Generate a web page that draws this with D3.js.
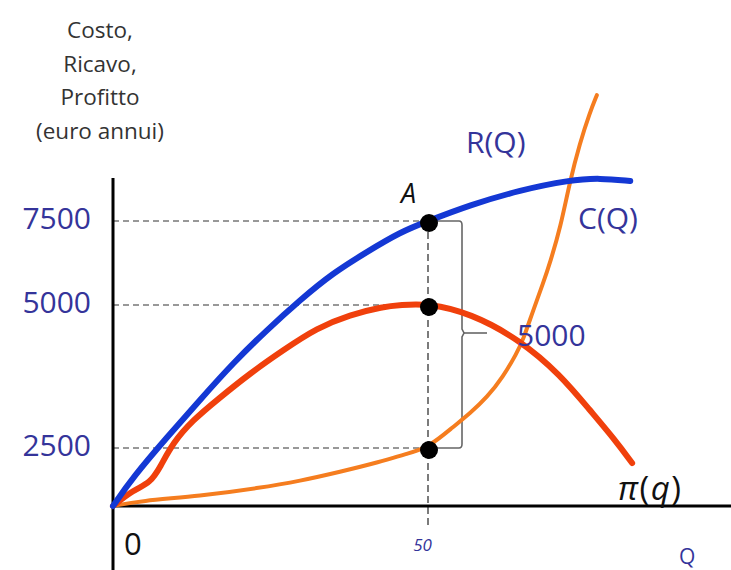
<!DOCTYPE html>
<html>
<head>
<meta charset="utf-8">
<script src="https://cdn.jsdelivr.net/npm/d3@7"></script>
<style>
  body { margin: 0; background: #fff; }
  text { font-family: "Open Sans", "Liberation Sans", sans-serif; }
</style>
</head>
<body>
<div id="chart"></div>
<script>
// quantities (Q) and euro values
const revenueQ = [0, 3.2, 8.6, 13.8, 19.1, 24.4, 29.7, 34.9, 40.3, 45.6, 50, 56.7, 64.6, 72.5, 77.3, 82.1];
const revenueV = [0, 1250, 2690, 3340, 3990, 4560, 5150, 5950, 6580, 7170, 7500, 7980, 8420, 8720, 8780, 8690];

const profitQ = [0, 3.2, 5.9, 7.5, 9.5, 12.7, 16.5, 21.8, 27.0, 32.4, 37.6, 42.9, 45.6, 50, 56.7, 64.6, 71.0, 75.7, 79.7, 82.4];
const profitV = [0, 690, 990, 1680, 2590, 2990, 3340, 3810, 4210, 4600, 4830, 4970, 5000, 5050, 4860, 4390, 3780, 3160, 2640, 1850];

const costQ = [0, 4.3, 13.8, 23.3, 29.7, 36.0, 42.4, 46.4, 50, 54.0, 56.7, 59.4, 61.9, 64.1, 65.1, 66.7, 68.3, 69.4, 71.0, 72.5, 74.1, 75.7, 76.8];
const costV = [0, 220, 430, 780, 1080, 1470, 1900, 2240, 2500, 2870, 3110, 3390, 3740, 4160, 4390, 4910, 5660, 6280, 7290, 8660, 9820, 10740, 11250];

const yTicks = [2500, 5000, 7500];
const markQ = 50;
const markV = [7500, 5000, 2500];
const titleLines = ["Costo,", "Ricavo,", "Profitto", "(euro annui)"];

const W = 731, H = 570;
const svg = d3.select("#chart").append("svg")
  .attr("width", W).attr("height", H);

// hand-drawn sketch: the value axis is not evenly spaced
const x = d3.scaleLinear().domain([0, 50]).range([113, 428]);
const y = d3.scaleLinear()
  .domain([0, 2500, 5000, 7500, 12000])
  .range([506, 448, 305, 221, 70]);

const labelBlue = "#34349a";

// y axis title
svg.append("g").selectAll("text")
  .data(titleLines)
  .enter().append("text")
  .attr("x", 100)
  .attr("y", (d, i) => 38 + i * 33.5)
  .attr("text-anchor", "middle")
  .attr("font-size", 22.5)
  .attr("fill", "#333")
  .text(d => d);

// guide lines
svg.append("g").selectAll("line")
  .data(markV)
  .enter().append("line")
  .attr("x1", x(0)).attr("x2", x(markQ))
  .attr("y1", d => y(d)).attr("y2", d => y(d))
  .attr("stroke", "#777")
  .attr("stroke-width", 1.6)
  .attr("stroke-dasharray", "6,4");

svg.append("line")
  .attr("x1", x(markQ)).attr("x2", x(markQ))
  .attr("y1", y(7500)).attr("y2", y(0) + 22)
  .attr("stroke", "#444")
  .attr("stroke-width", 1.4)
  .attr("stroke-dasharray", "7,4");

// brace between R and C at Q = 50
const bx = x(markQ) + 34, by1 = y(7500), by2 = y(2500), bm = y(5000) + 28;
svg.append("path")
  .attr("d", `M${x(markQ)},${by1} H${bx - 3} Q${bx},${by1} ${bx},${by1 + 4} V${bm - 4} L${bx + 2},${bm}
    L${bx},${bm + 4} V${by2 - 4} Q${bx},${by2} ${bx - 3},${by2} H${x(markQ)}`)
  .attr("fill", "none")
  .attr("stroke", "#666")
  .attr("stroke-width", 1.6);
svg.append("line")
  .attr("x1", bx + 2).attr("x2", bx + 25)
  .attr("y1", bm).attr("y2", bm)
  .attr("stroke", "#666")
  .attr("stroke-width", 1.6);

// axes
const yAxis = svg.append("g")
  .attr("transform", `translate(${x(0)},0)`)
  .call(d3.axisLeft(y).tickValues(yTicks).tickFormat(d3.format("d")).tickSize(0).tickPadding(22));
yAxis.select(".domain").remove();
yAxis.selectAll("text")
  .attr("font-family", "Open Sans, sans-serif")
  .attr("font-size", 30)
  .attr("dy", "0.25em")
  .attr("fill", labelBlue);

const xAxis = svg.append("g")
  .attr("transform", `translate(0,${y(0)})`)
  .call(d3.axisBottom(x).tickValues([markQ]).tickSize(0).tickPadding(33));
xAxis.select(".domain").remove();
xAxis.selectAll("text")
  .attr("font-family", "Open Sans, sans-serif")
  .attr("font-size", 17)
  .attr("font-style", "italic")
  .attr("fill", labelBlue)
  .attr("dx", -6);

svg.append("line")
  .attr("x1", x(0)).attr("x2", W)
  .attr("y1", y(0)).attr("y2", y(0))
  .attr("stroke", "#000").attr("stroke-width", 3);
svg.append("line")
  .attr("x1", x(0)).attr("x2", x(0))
  .attr("y1", 178).attr("y2", H)
  .attr("stroke", "#000").attr("stroke-width", 3);

svg.append("text")
  .attr("x", x(0) + 11).attr("y", y(0) + 49)
  .attr("font-size", 31).attr("fill", "#111")
  .text("0");
svg.append("text")
  .attr("x", 679).attr("y", 564)
  .attr("font-size", 21).attr("fill", labelBlue)
  .text("Q");

// curves (B-spline smooths the hand-drawn look)
const line = d3.line()
  .x(d => x(d[0]))
  .y(d => y(d[1]))
  .curve(d3.curveBasis);

const series = [
  {q: costQ, v: costV, color: "#f57d1f", w: 4},
  {q: profitQ, v: profitV, color: "#f0400c", w: 6},
  {q: revenueQ, v: revenueV, color: "#1438d4", w: 6}
];
series.forEach(s => {
  svg.append("path")
    .datum(d3.zip(s.q, s.v))
    .attr("d", line)
    .attr("fill", "none")
    .attr("stroke", s.color)
    .attr("stroke-width", s.w)
    .attr("stroke-linecap", "round")
    .attr("stroke-linejoin", "round");
});

// points at Q = 50
svg.append("g").selectAll("circle")
  .data(markV)
  .enter().append("circle")
  .attr("cx", x(markQ) + 1)
  .attr("cy", d => y(d) + 2)
  .attr("r", 9)
  .attr("fill", "#000");

// labels
svg.append("text")
  .attr("x", 401).attr("y", 203)
  .attr("font-size", 27).attr("font-style", "italic").attr("fill", "#111")
  .text("A");
svg.append("text")
  .attr("x", 466).attr("y", 153)
  .attr("font-size", 30).attr("fill", labelBlue)
  .text("R(Q)");
svg.append("text")
  .attr("x", 578).attr("y", 229)
  .attr("font-size", 30).attr("fill", labelBlue)
  .text("C(Q)");
svg.append("text")
  .attr("x", 517).attr("y", 346)
  .attr("font-size", 30).attr("fill", labelBlue)
  .text("5000");

const pi = svg.append("text")
  .attr("x", 618).attr("y", 500)
  .attr("font-family", "Liberation Serif, DejaVu Serif, serif")
  .attr("font-size", 33)
  .attr("letter-spacing", 1.5)
  .attr("fill", "#111");
pi.append("tspan").attr("font-style", "italic").text("π");
pi.append("tspan").text("(");
pi.append("tspan").attr("font-style", "italic").text("q");
pi.append("tspan").text(")");
</script>
</body>
</html>
